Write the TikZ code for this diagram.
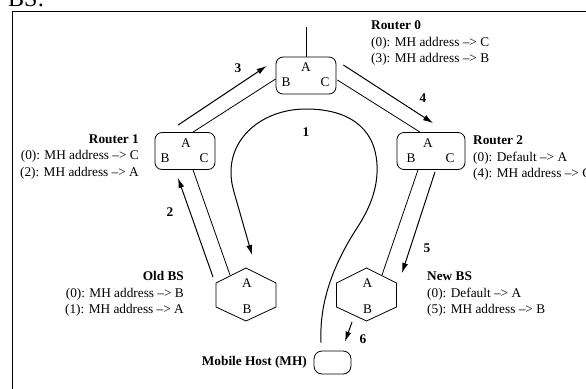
\documentclass[tikz,border=0pt]{standalone}
\usepackage{fontspec}
\setmainfont{Liberation Serif}
\usepackage{tikz}
\usetikzlibrary{arrows.meta,calc}
\tikzset{
  router/.style={rounded corners=7pt, draw=black, line width=0.8pt, minimum width=60pt, minimum height=37pt, inner sep=0pt},
  host/.style={rounded corners=8pt, draw=black, line width=0.8pt, minimum width=37pt, minimum height=23pt, inner sep=0pt},
  port/.style={inner sep=0pt, font=\fontsize{13.3}{16.5}\selectfont},
  table/.style={inner sep=0pt, font=\fontsize{13.3}{16.5}\selectfont},
  hoplabel/.style={inner sep=0pt, font=\fontsize{13.3}{16.5}\selectfont\bfseries},
  link/.style={line width=0.8pt},
  arrow/.style={-{Latex[length=10pt,width=6pt]}, line width=1pt},
  hexline/.style={line width=0.8pt, line join=miter}
}
% base station outline round a named centre
\newcommand{\bshex}[1]{\draw[hexline] ($(#1)+(0,-26.5)$) -- ++(30,15) -- ++(0,24) -- ++(-30,14) -- ++(-30,-14) -- ++(0,-24) -- cycle;}

\begin{document}
\begin{tikzpicture}[x=1pt, y=-1pt]
  \useasboundingbox (0,0) rectangle (586,388);
  \node[anchor=base west, inner sep=0pt, font=\fontsize{24}{28}\selectfont] (caption) at (8,6) {BS:};
  \draw[line width=1pt] (12,11) rectangle (620,420);

  % routers
  \node[router] (r0) at (306,75.5) {};
  \node[router] (r1) at (185,151) {};
  \node[router, minimum width=68pt] (r2) at (431,151) {};
  \foreach \r/\dx in {r0/0, r1/1, r2/-3} {
    \node[port] at ($(\r)+(\dx,-8)$) {A};
    \node[port] at ($(\r)+(-20,7)$) {B};
    \node[port] at ($(\r)+(19,7)$) {C};
  }
  \draw[link] (r0.north) -- ++(0,-30);

  % base stations and host
  \coordinate (obs) at (246,294.5);
  \coordinate (nbs) at (366.5,294.5);
  \bshex{obs}
  \bshex{nbs}
  \foreach \b in {obs, nbs} {
    \node[port] at ($(\b)+(1,-11.5)$) {A};
    \node[port] at ($(\b)+(1,14.5)$) {B};
  }
  \node[host] (mh) at (332.5,362.5) {};

  % tables
  \node[table, anchor=north west, align=left] (t0) at (371,20.5) {{\bfseries Router 0}\\(0): MH address --{>} C\\(3): MH address --{>} B};
  \node[table, anchor=north east, align=right] (t1) at (139,134.5) {{\bfseries Router 1}\\(0): MH address --{>} C\\(2): MH address --{>} A};
  \node[table, anchor=north west, align=left] (t2) at (473,135.5) {{\bfseries Router 2}\\(0): Default --{>} A\\(4): MH address --{>} C};
  \node[table, anchor=north east, align=right] (told) at (184,271.5) {{\bfseries Old BS}\\(0): MH address --{>} B\\(1): MH address --{>} A};
  \node[table, anchor=north west, align=left] (tnew) at (427,271.5) {{\bfseries New BS}\\(0): Default --{>} A\\(5): MH address --{>} B};
  \node[hoplabel, anchor=east] (tmh) at (307,362) {Mobile Host (MH)};

  % links
  \draw[link] ($(r1.north)+(8,0)$) -- ($(r0.west)+(0,3.5)$);
  \draw[link] ($(r0.east)+(1,4.5)$) -- ($(r2.north)+(-11,0)$);
  \draw[link] ($(r1.south)+(8,0)$) -- ($(obs)+(-16,-19.5)$);
  \draw[link] ($(r2.south)+(-13,0)$) -- ($(nbs)+(15.5,-19.5)$);

  % message path
  \coordinate (mhtail) at ($(mh.north)+(-11.5,-8)$);
  \draw[arrow] (mhtail) .. controls (319,300) and (335,262) .. (357,228)
    .. controls (372,205) and (378,185) .. (377,165)
    .. controls (375,125) and (345,109) .. (306,109)
    .. controls (265,109) and (231,135) .. (231,172)
    .. controls (231,182) and (233,188) .. (234,192) -- ($(obs)+(6,-39.5)$);
  \draw[arrow] ($(obs)+(-33,-17.5)$) -- ($(r1.south)+(-7,8)$);
  \draw[arrow] ($(r1.north)+(-7,-7)$) -- ($(r0.west)+(-9,-9.5)$);
  \draw[arrow] ($(r0.east)+(7,-10.5)$) -- ($(r2.north)+(2,-9)$);
  \draw[arrow] ($(r2.south)+(4,2)$) -- ($(nbs)+(35.5,-21.5)$);
  \draw[arrow] ($(nbs)+(-14.5,27.5)$) -- ($(mh.north)+(12.5,-9)$);

  \node[hoplabel] (h1) at (306,132) {1};
  \node[hoplabel] (h2) at (170,212) {2};
  \node[hoplabel] (h3) at (238,68) {3};
  \node[hoplabel] (h4) at (423,98) {4};
  \node[hoplabel] (h5) at (427,248) {5};
  \node[hoplabel] (h6) at (363,339) {6};
\end{tikzpicture}
\end{document}
